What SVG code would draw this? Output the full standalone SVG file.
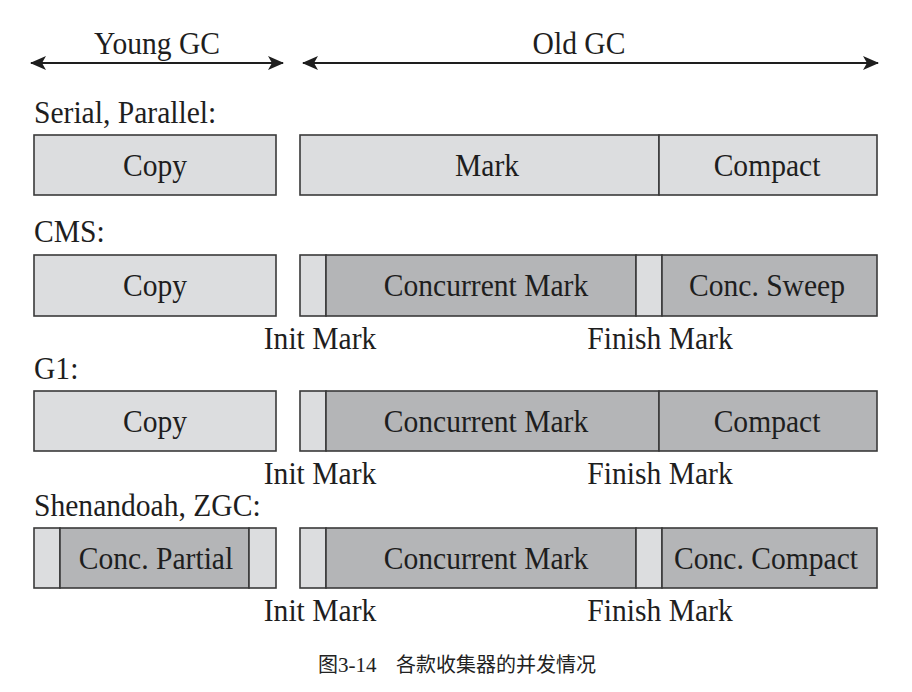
<svg xmlns="http://www.w3.org/2000/svg" width="912" height="692" viewBox="0 0 912 692">
<style>
.bg{fill:#ffffff}
.lt{fill:#dcdddf;stroke:#3a3a3a;stroke-width:1.6}
.dk{fill:#b4b5b7;stroke:#3a3a3a;stroke-width:1.6}
.t{font-family:"Liberation Serif","Times New Roman",serif;font-size:32.5px;fill:#1e1e1e;transform-box:fill-box;transform-origin:center;transform:scaleX(0.91)}
.c{text-anchor:middle}
.l{transform-origin:left center}
.cap{font-family:"Liberation Serif","Noto Sans CJK SC",serif;font-size:21px;fill:#222}
.capz{font-family:"Noto Sans CJK SC",sans-serif;font-size:20px;fill:#222}
.ln{stroke:#1e1e1e;stroke-width:2;fill:none}
</style>
<defs>
<marker id="ah" viewBox="0 0 16 14" refX="15" refY="7" markerWidth="16" markerHeight="14" markerUnits="userSpaceOnUse" orient="auto-start-reverse">
<path d="M0,0 L16,7 L0,14 L4,7 Z" fill="#1e1e1e"/>
</marker>
</defs>
<rect class="bg" x="0" y="0" width="912" height="692"/>

<g id="connectors">
<line class="ln" x1="31" y1="63" x2="283" y2="63" marker-start="url(#ah)" marker-end="url(#ah)"/>
<line class="ln" x1="303" y1="63" x2="878" y2="63" marker-start="url(#ah)" marker-end="url(#ah)"/>
</g>

<g id="headers">
<text class="t c" x="157" y="54">Young GC</text>
<text class="t c" x="579" y="54">Old GC</text>
</g>

<g id="serial">
<text class="t l" x="34" y="123">Serial, Parallel:</text>
<rect class="lt" x="34" y="135" width="242" height="60"/>
<text class="t c" x="155" y="176">Copy</text>
<rect class="lt" x="300" y="135" width="359" height="60"/>
<text class="t c" x="487" y="176">Mark</text>
<rect class="lt" x="659" y="135" width="218" height="60"/>
<text class="t c" x="767" y="176">Compact</text>
</g>

<g id="cms">
<text class="t l" x="34" y="242">CMS:</text>
<rect class="lt" x="34" y="255" width="242" height="61"/>
<text class="t c" x="155" y="296">Copy</text>
<rect class="lt" x="300" y="255" width="26" height="61"/>
<rect class="dk" x="326" y="255" width="310" height="61"/>
<text class="t c" x="486" y="296">Concurrent Mark</text>
<rect class="lt" x="636" y="255" width="26" height="61"/>
<rect class="dk" x="662" y="255" width="215" height="61"/>
<text class="t c" x="767" y="296">Conc. Sweep</text>
<text class="t c" x="320" y="349">Init Mark</text>
<text class="t c" x="660" y="349">Finish Mark</text>
</g>

<g id="g1">
<text class="t l" x="34" y="379">G1:</text>
<rect class="lt" x="34" y="391" width="242" height="60"/>
<text class="t c" x="155" y="432">Copy</text>
<rect class="lt" x="300" y="391" width="26" height="60"/>
<rect class="dk" x="326" y="391" width="333" height="60"/>
<text class="t c" x="486" y="432">Concurrent Mark</text>
<rect class="dk" x="659" y="391" width="218" height="60"/>
<text class="t c" x="767" y="432">Compact</text>
<text class="t c" x="320" y="484">Init Mark</text>
<text class="t c" x="660" y="484">Finish Mark</text>
</g>

<g id="shenandoah-zgc">
<text class="t l" x="34" y="516">Shenandoah, ZGC:</text>
<rect class="lt" x="34" y="528" width="26" height="60"/>
<rect class="dk" x="60" y="528" width="189" height="60"/>
<text class="t c" x="156" y="569">Conc. Partial</text>
<rect class="lt" x="249" y="528" width="27" height="60"/>
<rect class="lt" x="300" y="528" width="26" height="60"/>
<rect class="dk" x="326" y="528" width="310" height="60"/>
<text class="t c" x="486" y="569">Concurrent Mark</text>
<rect class="lt" x="636" y="528" width="26" height="60"/>
<rect class="dk" x="662" y="528" width="215" height="60"/>
<text class="t c" x="766" y="569">Conc. Compact</text>
<text class="t c" x="320" y="621">Init Mark</text>
<text class="t c" x="660" y="621">Finish Mark</text>
</g>

<g id="caption">
<text class="capz" x="318" y="672">图<tspan class="cap">3-14</tspan></text>
<text class="capz" x="396" y="672">各款收集器的并发情况</text>
</g>
</svg>
